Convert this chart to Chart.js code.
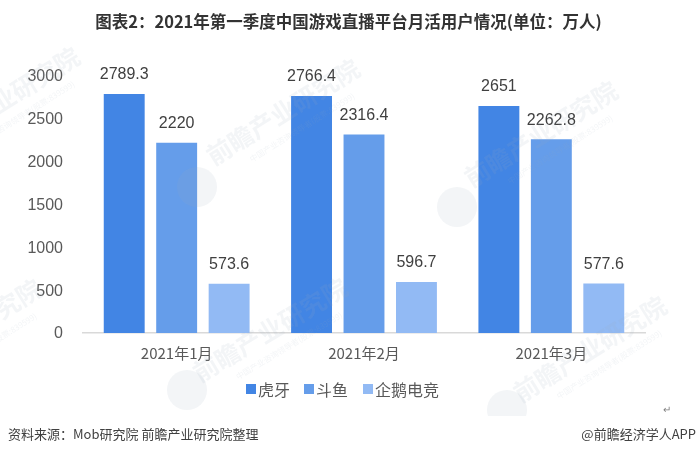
<!DOCTYPE html>
<html>
<head>
<meta charset="utf-8">
<script src="https://cdn.jsdelivr.net/npm/chart.js@4"></script>
<style>
  html, body { margin: 0; padding: 0; background: #fff; }
  #wrap { position: relative; width: 697px; height: 455px; overflow: hidden; }
  .note { position: absolute; font: 13px "Noto Sans CJK SC", sans-serif; color: #404040; white-space: nowrap; }
  #title { left: 0; width: 697px; top: 9px; text-align: center; font-size: 16.5px; line-height: 24px; font-weight: bold; color: #333; }
  #legend { left: 246px; top: 377px; font-size: 16px; line-height: 24px; color: #595959; }
  #legend i { position: absolute; top: 7px; width: 10px; height: 10px; }
  #legend span { position: absolute; top: 0; }
</style>
</head>
<body>
<div id="wrap">
  <canvas id="chart" width="697" height="455"></canvas>
  <div class="note" id="title">图表2：2021年第一季度中国游戏直播平台月活用户情况(单位：万人)</div>
  <div class="note" id="legend"></div>
  <div class="note" style="left:8px;top:424px">资料来源：Mob研究院 前瞻产业研究院整理</div>
  <div class="note" style="right:1px;top:424px">@前瞻经济学人APP</div>
  <div class="note" style="left:663px;top:401px;font-size:10px;color:#808080">↵</div>
</div>
<script>
const months = ["2021年1月", "2021年2月", "2021年3月"];
const seriesNames = ["虎牙", "斗鱼", "企鹅电竞"];
const huya = [2789.3, 2766.4, 2651];
const douyu = [2220, 2316.4, 2262.8];
const penguin = [573.6, 596.7, 577.6];
const yTicks = [0, 500, 1000, 1500, 2000, 2500, 3000];
const colors = ['#4285E4', '#659DEA', '#92BAF4'];

// faint brand stamps: x, y, rotation in degrees
const stamps = [[8, 108, -32], [288, 120, -32], [546, 142, -32], [275, 338, -31], [595, 357, -32], [-30, 340, -32]];
const logos = [[197, 187], [457, 207], [187, 390], [507, 410]];

const valueLabels = {
  id: 'valueLabels',
  afterDatasetsDraw(chart) {
    const ctx = chart.ctx;
    ctx.save();
    ctx.font = '16px "Liberation Sans"';
    ctx.fillStyle = '#404040';
    ctx.textAlign = 'center';
    ctx.textBaseline = 'middle';
    chart.data.datasets.forEach((ds, i) => {
      chart.getDatasetMeta(i).data.forEach((bar, j) => {
        ctx.fillText(String(ds.data[j]), bar.x, bar.y - 19);
      });
    });
    ctx.restore();
  }
};

const watermark = {
  id: 'watermark',
  afterDraw(chart) {
    const ctx = chart.ctx;
    ctx.save();
    // the stamps stop above the legend/footer band
    ctx.beginPath();
    ctx.rect(0, 0, 697, 416);
    ctx.clip();
    ctx.fillStyle = 'rgba(160, 170, 190, 0.12)';
    logos.forEach(l => {
      ctx.beginPath();
      ctx.arc(l[0], l[1], 20, 0, Math.PI * 2);
      ctx.fill();
    });
    stamps.forEach(s => {
      ctx.save();
      ctx.translate(s[0], s[1]);
      ctx.rotate(s[2] * Math.PI / 180);
      ctx.textAlign = 'center';
      ctx.font = 'bold 25px "Noto Sans CJK SC"';
      ctx.fillText('前瞻产业研究院', 0, 0);
      ctx.font = '8px "Noto Sans CJK SC"';
      ctx.fillText('中国产业咨询领导者(股票:839599)', 8, 17);
      ctx.restore();
    });
    ctx.restore();
  }
};

const legendBox = document.getElementById("legend");
[[0, 12], [58, 70], [117, 129]].forEach((pos, i) => {
  legendBox.insertAdjacentHTML('beforeend',
    `<i style="left:${pos[0]}px;background:${colors[i]}"></i><span style="left:${pos[1]}px">${seriesNames[i]}</span>`);
});

new Chart(document.getElementById("chart"), {
  type: 'bar',
  data: {
    labels: months,
    datasets: [
      { label: seriesNames[0], data: huya, backgroundColor: colors[0] },
      { label: seriesNames[1], data: douyu, backgroundColor: colors[1] },
      { label: seriesNames[2], data: penguin, backgroundColor: colors[2] }
    ]
  },
  plugins: [valueLabels, watermark],
  options: {
    responsive: false,
    animation: false,
    categoryPercentage: 0.84,
    barPercentage: 0.78,
    layout: { padding: { left: 8, right: 52, top: 76, bottom: 92 } },
    plugins: {
      title: { display: false },
      legend: { display: false },
      tooltip: { enabled: false }
    },
    scales: {
      x: {
        afterFit(axis) { axis.height = 30; },
        grid: { display: false, drawTicks: false },
        border: { color: '#D9D9D9', width: 1.5 },
        ticks: { color: '#595959', font: { family: '"Noto Sans CJK SC"', size: 15 }, padding: 11 }
      },
      y: {
        min: 0,
        max: 3000,
        afterFit(axis) { axis.width = 75; },
        afterBuildTicks(axis) { axis.ticks = yTicks.map(v => ({ value: v })); },
        grid: { display: false, drawTicks: false },
        border: { display: false },
        ticks: {
          color: '#595959',
          font: { family: '"Liberation Sans"', size: 16 },
          padding: 20,
          labelOffset: 1,
          callback: v => String(v)
        }
      }
    }
  }
});
</script>
</body>
</html>
